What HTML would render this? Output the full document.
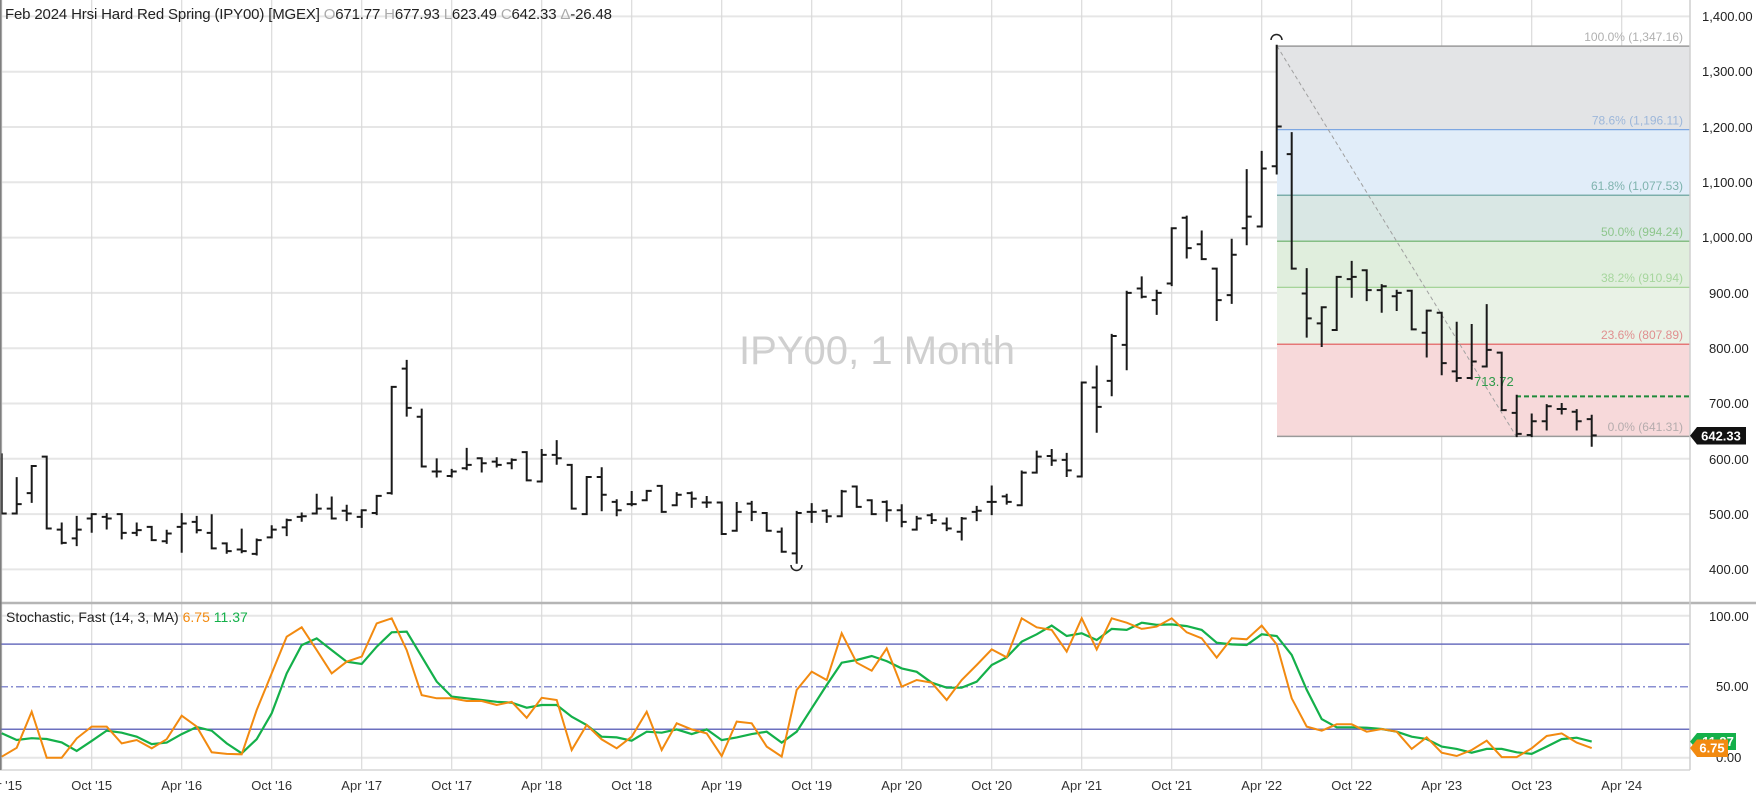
<!DOCTYPE html>
<html><head><meta charset="utf-8"><style>
html,body{margin:0;padding:0;background:#fff;}
svg{display:block;font-family:"Liberation Sans",sans-serif;}
</style></head><body>
<svg id="c" width="1756" height="797" viewBox="0 0 1756 797" xmlns="http://www.w3.org/2000/svg">
<rect width="1756" height="797" fill="#fff"/>
<g id="grid"></g>
<g id="fib">
<rect x="1277" y="46.1" width="413" height="83.5" fill="#e3e4e6"/>
<rect x="1277" y="129.6" width="413" height="65.6" fill="#e1edf9"/>
<rect x="1277" y="195.2" width="413" height="46" fill="#d9e7e4"/>
<rect x="1277" y="241.2" width="413" height="46.1" fill="#e0eedd"/>
<rect x="1277" y="287.3" width="413" height="56.9" fill="#e9f2e6"/>
<rect x="1277" y="344.2" width="413" height="92.2" fill="#f7d9da"/>
<line x1="1277" x2="1690" y1="46.1" y2="46.1" stroke="#9a9a9a" stroke-width="1.5"/>
<line x1="1277" x2="1690" y1="129.6" y2="129.6" stroke="#7ea7e2" stroke-width="1.2"/>
<line x1="1277" x2="1690" y1="195.2" y2="195.2" stroke="#5e9c97" stroke-width="1.2"/>
<line x1="1277" x2="1690" y1="241.2" y2="241.2" stroke="#67ad66" stroke-width="1.2"/>
<line x1="1277" x2="1690" y1="287.3" y2="287.3" stroke="#9bd08e" stroke-width="1.2"/>
<line x1="1277" x2="1690" y1="344.2" y2="344.2" stroke="#e05555" stroke-width="1.2"/>
<line x1="1277" x2="1690" y1="436.4" y2="436.4" stroke="#9a9a9a" stroke-width="1.5"/>
<g font-size="12" text-anchor="end">
<text x="1683" y="41" fill="#b0b0b0">100.0% (1,347.16)</text>
<text x="1683" y="124.5" fill="#9db7da">78.6% (1,196.11)</text>
<text x="1683" y="190" fill="#7fb3ae">61.8% (1,077.53)</text>
<text x="1683" y="236" fill="#8ec68c">50.0% (994.24)</text>
<text x="1683" y="282" fill="#a6d69d">38.2% (910.94)</text>
<text x="1683" y="339" fill="#e08f8f">23.6% (807.89)</text>
<text x="1683" y="431" fill="#b5acad">0.0% (641.31)</text>
</g>
<line x1="1277" y1="46" x2="1516" y2="436" stroke="#a0a0a0" stroke-width="1" stroke-dasharray="4,3"/>
<line x1="1516" y1="396.4" x2="1690" y2="396.4" stroke="#1f8a3a" stroke-width="2" stroke-dasharray="5,3"/>
<text x="1474" y="386" font-size="13" fill="#2e9a4a">713.72</text>
</g>
<text x="877" y="364" font-size="40" fill="#cfcfcf" text-anchor="middle" textLength="276">IPY00, 1 Month</text>
<g id="bars" stroke="#1a1a1a" stroke-width="2" fill="none"></g>
<path d="M1271,40 A5,5 0 0 1 1282,40" stroke="#222" fill="none" stroke-width="1.5"/>
<path d="M791,565 A5,5 0 0 0 802,565" stroke="#222" fill="none" stroke-width="1.5"/>
<!-- stochastic panel -->
<line x1="0" x2="1756" y1="603" y2="603" stroke="#b5b5b5" stroke-width="2.5"/>
<line x1="0" x2="1690" y1="644.1" y2="644.1" stroke="#6c70bf" stroke-width="1.5"/>
<line x1="0" x2="1690" y1="686.7" y2="686.7" stroke="#8a8fd2" stroke-width="1.5" stroke-dasharray="8,3,2,3"/>
<line x1="0" x2="1690" y1="729.3" y2="729.3" stroke="#6c70bf" stroke-width="1.5"/>
<polyline id="dl" fill="none" stroke="#14b04a" stroke-width="2.2"/>
<polyline id="kl" fill="none" stroke="#f28a10" stroke-width="2"/>
<line x1="0" x2="1690" y1="770" y2="770" stroke="#e0e0e0" stroke-width="2"/>
<line x1="1690" x2="1690" y1="0" y2="770" stroke="#cfcfcf" stroke-width="1.5"/>
<line x1="0.8" x2="0.8" y1="0" y2="770" stroke="#777" stroke-width="1.5"/>
<text x="6" y="622" font-size="14" fill="#222">Stochastic, Fast  (14, 3, MA) <tspan fill="#f28a10">6.75</tspan> <tspan fill="#14b04a">11.37</tspan></text>
<text x="5" y="19" font-size="15" fill="#222" textLength="607">Feb 2024 Hrsi Hard Red Spring (IPY00) [MGEX] <tspan fill="#aaa">O</tspan>671.77 <tspan fill="#aaa">H</tspan>677.93 <tspan fill="#aaa">L</tspan>623.49 <tspan fill="#aaa">C</tspan>642.33 <tspan fill="#aaa">Δ</tspan>-26.48</text>
<!-- price axis -->
<g font-size="13" fill="#222">
<text x="1702" y="21">1,400.00</text>
<text x="1702" y="76">1,300.00</text>
<text x="1702" y="132">1,200.00</text>
<text x="1702" y="187">1,100.00</text>
<text x="1702" y="242">1,000.00</text>
<text x="1709" y="298">900.00</text>
<text x="1709" y="353">800.00</text>
<text x="1709" y="408">700.00</text>
<text x="1709" y="464">600.00</text>
<text x="1709" y="519">500.00</text>
<text x="1709" y="574">400.00</text>
<text x="1709" y="621">100.00</text>
<text x="1716" y="691">50.00</text>
<text x="1716" y="762">0.00</text>
</g>
<path d="M1690,435.7 L1697,427 L1746,427 L1746,444.5 L1697,444.5 Z" fill="#111"/>
<text x="1721" y="440.5" font-size="13" font-weight="bold" fill="#fff" text-anchor="middle">642.33</text>
<path d="M1690,741.6 L1697,733 L1736,733 L1736,750 L1697,750 Z" fill="#14b04a"/>
<text x="1718" y="746" font-size="13" font-weight="bold" fill="#fff" text-anchor="middle">11.37</text>
<path d="M1690,748 L1697,739.5 L1728,739.5 L1728,757 L1697,757 Z" fill="#f28a10"/>
<text x="1712" y="752.5" font-size="13" font-weight="bold" fill="#fff" text-anchor="middle">6.75</text>
<g font-size="13" fill="#333" text-anchor="middle" id="xl">
<text x="1.7" y="790">Apr '15</text><text x="91.7" y="790">Oct '15</text><text x="181.7" y="790">Apr '16</text>
<text x="271.7" y="790">Oct '16</text><text x="361.7" y="790">Apr '17</text><text x="451.7" y="790">Oct '17</text>
<text x="541.7" y="790">Apr '18</text><text x="631.7" y="790">Oct '18</text><text x="721.7" y="790">Apr '19</text>
<text x="811.7" y="790">Oct '19</text><text x="901.7" y="790">Apr '20</text><text x="991.7" y="790">Oct '20</text>
<text x="1081.7" y="790">Apr '21</text><text x="1171.7" y="790">Oct '21</text><text x="1261.7" y="790">Apr '22</text>
<text x="1351.7" y="790">Oct '22</text><text x="1441.7" y="790">Apr '23</text><text x="1531.7" y="790">Oct '23</text>
<text x="1621.7" y="790">Apr '24</text>
</g>
</svg>
<script>
(function(){
var NS="http://www.w3.org/2000/svg";
function X(m){return 91.7+15*m;}
function Y(p){return 71.7+(1300-p)*0.553;}
function S(v){return 757.7-1.42*v;}
var g=document.getElementById('grid'),s='';
for(var p=400;p<=1400;p+=100){s+='<line x1="0" x2="1690" y1="'+Y(p)+'" y2="'+Y(p)+'" stroke="#e6e6e6" stroke-width="2"/>';}
s+='<line x1="0" x2="1690" y1="'+S(100)+'" y2="'+S(100)+'" stroke="#e6e6e6" stroke-width="2"/>';
s+='<line x1="0" x2="1690" y1="'+S(0)+'" y2="'+S(0)+'" stroke="#e6e6e6" stroke-width="2"/>';
for(var k=-1;k<=17;k++){var x=X(6*k);s+='<line x1="'+x+'" x2="'+x+'" y1="0" y2="770" stroke="#dadada" stroke-width="1.2"/>';}
g.innerHTML=s;
var d=[[600,608,501,501],[501,565,501,518],[538,587,522,587],[604,604,474,474],[472,483,447,448],[456,495,444,472],
[492,500,468,500],[495,500,474,492],[500,500,456,466],[466,483,462,471],[477,477,453,453],[451,470,448,465],[477,500,432,483],
[486,495,467,471],[466,498,438,438],[447,447,430,433],[436,472,431,433],[428,454,427,453],[458,478,458,472],[476,490,462,489],
[495,501,488,496],[501,535,501,510],[510,530,492,492],[506,515,489,501],[495,507,477,507],[502,533,500,533],[538,730,537,730],
[763,777,678,692],[676,689,586,586],[577,599,568,577],[569,580,568,577],[583,618,581,589],[601,601,577,592],[595,601,586,589],
[592,599,583,598],[612,612,561,561],[559,616,559,607],[607,632,591,601],[589,589,510,510],[500,567,500,567],[567,583,507,535],
[522,525,498,507],[518,540,516,518],[525,542,525,542],[551,551,504,504],[516,538,516,535],[538,539,513,528],[521,531,513,521],
[521,521,464,464],[470,520,470,504],[519,522,489,504],[502,502,470,470],[468,474,432,432],[429,504,412,502],[504,518,486,504],
[506,507,486,496],[496,542,496,541],[550,550,513,513],[525,525,500,500],[522,523,488,507],[507,516,478,486],[472,495,472,492],
[498,500,484,489],[483,492,471,474],[468,493,454,492],[504,513,489,506],[522,550,500,522],[532,535,519,522],[516,577,516,575],
[575,613,575,604],[605,616,589,597],[598,609,569,579],[568,738,568,738],[729,767,649,694],[741,824,715,822],[806,902,762,900],
[908,928,892,893],[887,904,862,900],[917,1017,914,1017],[1036,1038,964,981],[988,1011,961,961],[944,944,851,887],[896,996,882,969],
[1017,1122,988,1038],[1020,1155,1020,1125],[1129,1347,1116,1201],[1151,1189,944,944],[899,943,821,854],[845,874,804,874],
[833,929,833,929],[925,956,893,929],[941,941,887,905],[905,914,866,912],[894,904,869,900],[904,904,834,834],[828,868,785,868],
[864,864,753,773],[758,846,741,746],[746,842,745,776],[767,878,767,797],[792,792,688,688],[683,714,641,645],[643,680,641,668],
[668,697,653,695],[690,699,682,690],[685,688,653,668],[671.77,677.93,623.49,642.33]];
var b='';
for(var i=0;i<d.length;i++){var m=i-6,x=X(m),o=d[i];
b+='M'+x+','+(Y(o[1])-1)+'V'+(Y(o[2])+1)+'M'+(x-5)+','+Y(o[0])+'H'+x+'M'+x+','+Y(o[3])+'H'+(x+5);}
var pth=document.createElementNS(NS,'path');pth.setAttribute('d',b);document.getElementById('bars').appendChild(pth);
var K=[0.7,7,32.4,0,0,13.6,21.9,21.9,10.1,12.5,6.6,13,29.6,21.9,3.8,2.7,2.4,33.6,
59.4,85.2,91.8,75.8,59.4,67.6,71.2,94.6,98.2,75.8,44.1,41.8,41.8,39.9,39.9,37.1,39.4,28.1,42.2,40.6,5.4,23,12.9,6.6,14.8,32.4,5.4,24.2,19.9,17.1,1.2,25.4,24.2,7.8,0.8,47.7,60.6,
54.7,87.6,66.9,61.3,77,50,54.7,52.8,40.6,54.7,65.3,76.3,70.7,98.2,91.8,90,74.7,98.2,76.3,98.2,95.1,90.7,92.3,98.2,88.3,84.1,70.5,84.1,83.4,93,79.8,
41.8,21.9,19,23.5,23.5,18.3,20.2,18.3,6.2,14.4,3.5,1.2,5.4,12,0.4,0.4,6.6,15.3,17.1,10.6,6.75];
var D=[17.2,12.5,13.7,13.2,10.8,4.8,11.8,19.1,17.6,14.8,9.6,10.6,16.6,21.6,19,10.1,3.1,13,31.3,
59.4,79.3,84,75.8,67.6,66,78.2,88.3,88.8,71.2,53.6,43,41.8,40.6,39.4,38.7,35.2,37.1,37.1,28.9,23,14.8,14.3,12,18.3,17.6,19.9,16.6,19.9,12.4,14.3,16.6,18.3,10.6,18.3,34.8,
51.2,66.9,68.8,71.6,68,62.9,60.5,52.8,49.3,49.3,53.5,65.3,70.7,81.7,86.9,93,85.7,87.6,82.9,90.7,90,95.1,93.5,93.9,92.7,90,81,79.8,79.4,86.9,85.7,72.4,
47.8,27.2,21.4,21.4,21.1,20.2,18.3,14.8,13.1,7.8,6.2,3.5,6.2,6.2,3.8,2.7,7.8,13.1,14.1,11.37];
function pts(a){var r=[];for(var i=0;i<a.length;i++){r.push(X(i-6).toFixed(1)+','+S(a[i]).toFixed(1));}return r.join(' ');}
document.getElementById('kl').setAttribute('points',pts(K));
document.getElementById('dl').setAttribute('points',pts(D));
})();
</script>
</body></html>
